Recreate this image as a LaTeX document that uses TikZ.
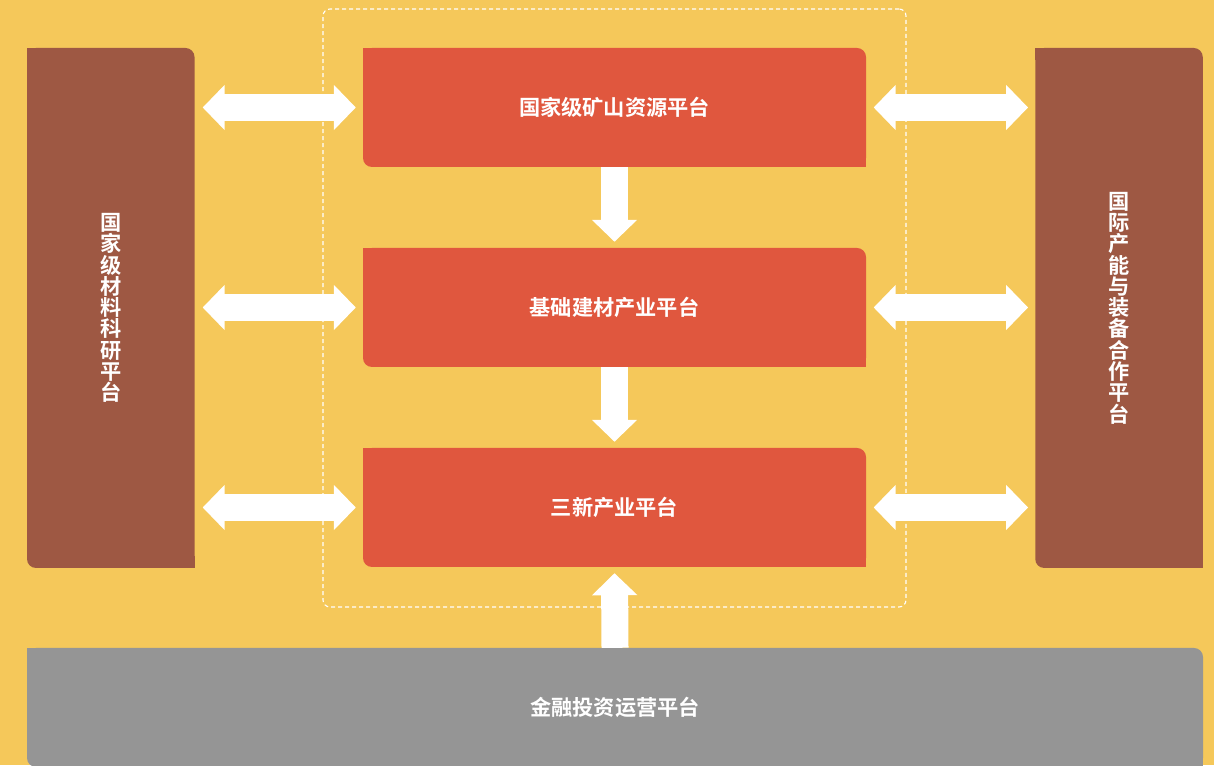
\documentclass[tikz,border=0pt]{standalone}
\usepackage{fontspec}
\newfontfamily\cjk{Noto Sans CJK SC}[BoldFont={Noto Sans CJK SC Bold}]
\usetikzlibrary{arrows.meta,calc}
\pgfdeclarelayer{base}
\pgfdeclarelayer{mid}
\pgfsetlayers{base,mid,main}
\definecolor{bgyellow}{HTML}{F5C85A}
\definecolor{boxred}{HTML}{E0573E}
\definecolor{boxbrown}{HTML}{9E5843}
\definecolor{boxgray}{HTML}{959595}
\tikzset{
  leaf/.style={rounded corners=9pt, inner sep=0pt, font=\cjk\bfseries\fontsize{21.2}{21.3}\selectfont, text=white, align=center},
  redbox/.style={leaf, fill=boxred, minimum width=503pt, minimum height=119pt},
  brownbox/.style={leaf, fill=boxbrown, minimum width=167.5pt, minimum height=520pt},
  graybox/.style={leaf, fill=boxgray, minimum width=1176pt, minimum height=119pt},
  fatarrow/.style={line width=27pt, draw=white, line cap=butt},
  dbl/.style={fatarrow, {Triangle[width=44pt,length=22pt]}-{Triangle[width=44pt,length=22pt]}},
  sgl/.style={fatarrow, -{Triangle[width=44pt,length=22pt]}},
  frame/.style={draw=white, line width=1.1pt, dash pattern=on 4pt off 3pt, rounded corners=7pt}
}
\newcommand{\sharpen}[2]{%
  \fill[#2] (#1.north west) rectangle ++(12pt,-12pt);
  \fill[#2] (#1.south east) rectangle ++(-12pt,12pt);}
\begin{document}
\begin{tikzpicture}[x=1pt,y=1pt]
\useasboundingbox (0,0) rectangle (1214,765);
\begin{pgfonlayer}{base}
\fill[bgyellow] (0,0) rectangle (1214,765);
\end{pgfonlayer}
\node[frame, minimum width=583pt, minimum height=598pt] (fr) at (614.5,457) {};
\node[redbox] (m1) at (614.5,657.5) {国家级矿山资源平台};
\node[redbox] (m2) at (614.5,457.5) {基础建材产业平台};
\node[redbox] (m3) at (614.5,257.5) {三新产业平台};
\node[brownbox] (L) at (110.75,457) {国\\家\\级\\材\\料\\科\\研\\平\\台};
\node[brownbox] (R) at (1119,457) {国\\际\\产\\能\\与\\装\\备\\合\\作\\平\\台};
\node[graybox] (G) at (615,57.5) {金融投资运营平台};
\begin{pgfonlayer}{mid}
\sharpen{m1}{boxred}
\sharpen{m2}{boxred}
\sharpen{m3}{boxred}
\sharpen{L}{boxbrown}
\sharpen{R}{boxbrown}
\sharpen{G}{boxgray}
\end{pgfonlayer}
\foreach \m in {m1,m2,m3}{
  \draw[dbl] ($(L.east |- \m.center)+(8,0)$) -- ($(\m.west)+(-7,0)$);
  \draw[dbl] ($(\m.east)+(7.5,0)$) -- ($(R.west |- \m.center)+(-7,0)$);
}
\draw[sgl] (m1.south) -- ($(m2.north)+(0,6)$);
\draw[sgl] (m2.south) -- ($(m3.north)+(0,6)$);
\draw[sgl] (G.north) -- ($(m3.south)+(0,-6)$);
\end{tikzpicture}
\end{document}
